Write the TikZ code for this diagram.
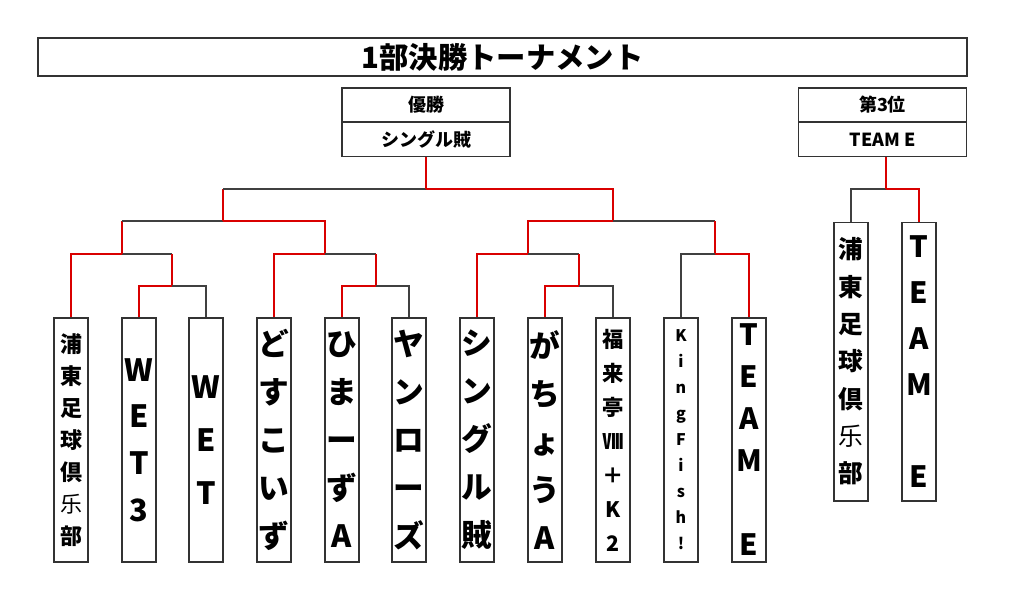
\documentclass[tikz,border=0pt]{standalone}
\usepackage{fontspec}
\setmainfont{Noto Sans CJK JP}
\newcommand\fsz[2]{\fontsize{#1pt}{#2pt}\selectfont\bfseries}
\tikzset{
 bx/.style={draw=black!80,line width=1pt,minimum width=25.5pt,minimum height=183pt,inner sep=0pt},
 tb/.style={draw=black!80,line width=1pt,minimum width=25.5pt,minimum height=209pt,inner sep=0pt},
 hb/.style={draw=black!80,line width=1pt,minimum width=126pt,minimum height=25.5pt,inner sep=0pt,font=\fsz{13.5}{16}},
 tx/.style={align=center,inner sep=0pt},
 bl/.style={draw=black!75,line width=1pt},
 rl/.style={draw=red!85!black,line width=1.2pt},
}
\begin{document}
\begin{tikzpicture}[x=0.75pt,y=-0.75pt]
\useasboundingbox[fill=white] (0,0) rectangle (1024,593);
\node[draw=black!80,line width=1pt,minimum width=696.75pt,minimum height=28.5pt,inner sep=0pt,font=\fsz{22}{24}] (title) at (502.5,57) {1部決勝トーナメント};
\node[hb] (c1) at (426,105) {優勝};
\node[hb] (c2) at (426,139.5) {シングル賊};
\node[hb] (d1) at (882.5,105) {第3位};
\node[hb] (d2) at (882.5,139.5) {TEAM E};
% boxes
\foreach \n/\x in {b1/71,b2/139,b3/206,b4/274,b5/342,b6/409,b7/477,b8/545,b9/613,b10/681,b11/749}
  \node[bx] (\n) at (\x,440) {};
\node[tb] (t1) at (851,361.5) {};
\node[tb] (t2) at (919,361.5) {};
\node[tx,font=\fsz{16.5}{24}] at (b1) {浦\\東\\足\\球\\倶\\\mdseries 乐\\部};
\node[tx,font=\fsz{23}{35}] at (b2) {W\\E\\T\\3};
\node[tx,font=\fsz{23}{40}] at (b3) {W\\E\\T};
\node[tx,font=\fsz{23}{36}] at (b4) {ど\\す\\こ\\い\\ず};
\node[tx,font=\fsz{23}{36}] at (b5) {ひ\\ま\\ー\\ず\\A};
\node[tx,font=\fsz{23}{36}] at (b6) {ヤ\\ン\\ロ\\ー\\ズ};
\node[tx,font=\fsz{23}{36}] at (b7) {シ\\ン\\グ\\ル\\賊};
\node[tx,font=\fsz{23}{36}] at (b8) {が\\ち\\ょ\\う\\A};
\node[tx,font=\fsz{16}{25.5}] at (b9) {福\\来\\亭\\Ⅷ\\＋\\K\\2};
\node[tx,font=\fsz{12}{19.5}] at (b10) {K\\i\\n\\g\\F\\i\\s\\h\\!};
\node[tx,font=\fsz{22}{31.5}] at (b11) {T\\E\\A\\M\\\mbox{}\\E};
\node[tx,font=\fsz{18.5}{28}] at (t1) {浦\\東\\足\\球\\倶\\\mdseries 乐\\部};
\node[tx,font=\fsz{22}{34.5}] at (t2) {T\\E\\A\\M\\\mbox{}\\E};
% connectors
\coordinate (j1) at (122,254); \coordinate (j2) at (172,254); \coordinate (j3) at (172,286);
\draw[rl] (b1.north) |- (j1);
\draw[bl] (j1) -- (j2);
\draw[rl] (b2.north) |- (j3) -- (j2);
\draw[bl] (j3) -| (b3.north);
\coordinate (k1) at (122,221); \coordinate (k2) at (223,221); \coordinate (k3) at (325,254); \coordinate (k4) at (376,254); \coordinate (k5) at (376,286);
\draw[rl] (j1) -- (k1);
\draw[bl] (k1) -- (k2);
\draw[rl] (k2) -| (k3) -| (b4.north);
\draw[bl] (k3) -- (k4);
\draw[rl] (k4) -- (k5) -| (b5.north);
\draw[bl] (k5) -| (b6.north);
\coordinate (m1) at (223,189); \coordinate (m2) at (426,189); \coordinate (m3) at (613,221); \coordinate (m4) at (528,254); \coordinate (m5) at (579,254); \coordinate (m6) at (579,286); \coordinate (m7) at (715,221); \coordinate (m8) at (715,254);
\draw[rl] (k2) -- (m1);
\draw[bl] (m1) -- (m2);
\draw[rl] (m2) -| (m3) -| (m4) -| (b7.north);
\draw[bl] (m4) -- (m5);
\draw[rl] (m5) -- (m6) -| (b8.north);
\draw[bl] (m6) -| (b9.north);
\draw[bl] (m3) -- (m7);
\draw[rl] (m7) -- (m8) -| (b11.north);
\draw[bl] (m8) -| (b10.north);
\draw[rl] (m2) -- (m2 |- c2.south);
\coordinate (n1) at (886,189);
\draw[bl] (t1.north) |- (n1);
\draw[rl] (n1) -| (t2.north);
\draw[rl] (n1) -- (n1 |- d2.south);
\end{tikzpicture}
\end{document}
